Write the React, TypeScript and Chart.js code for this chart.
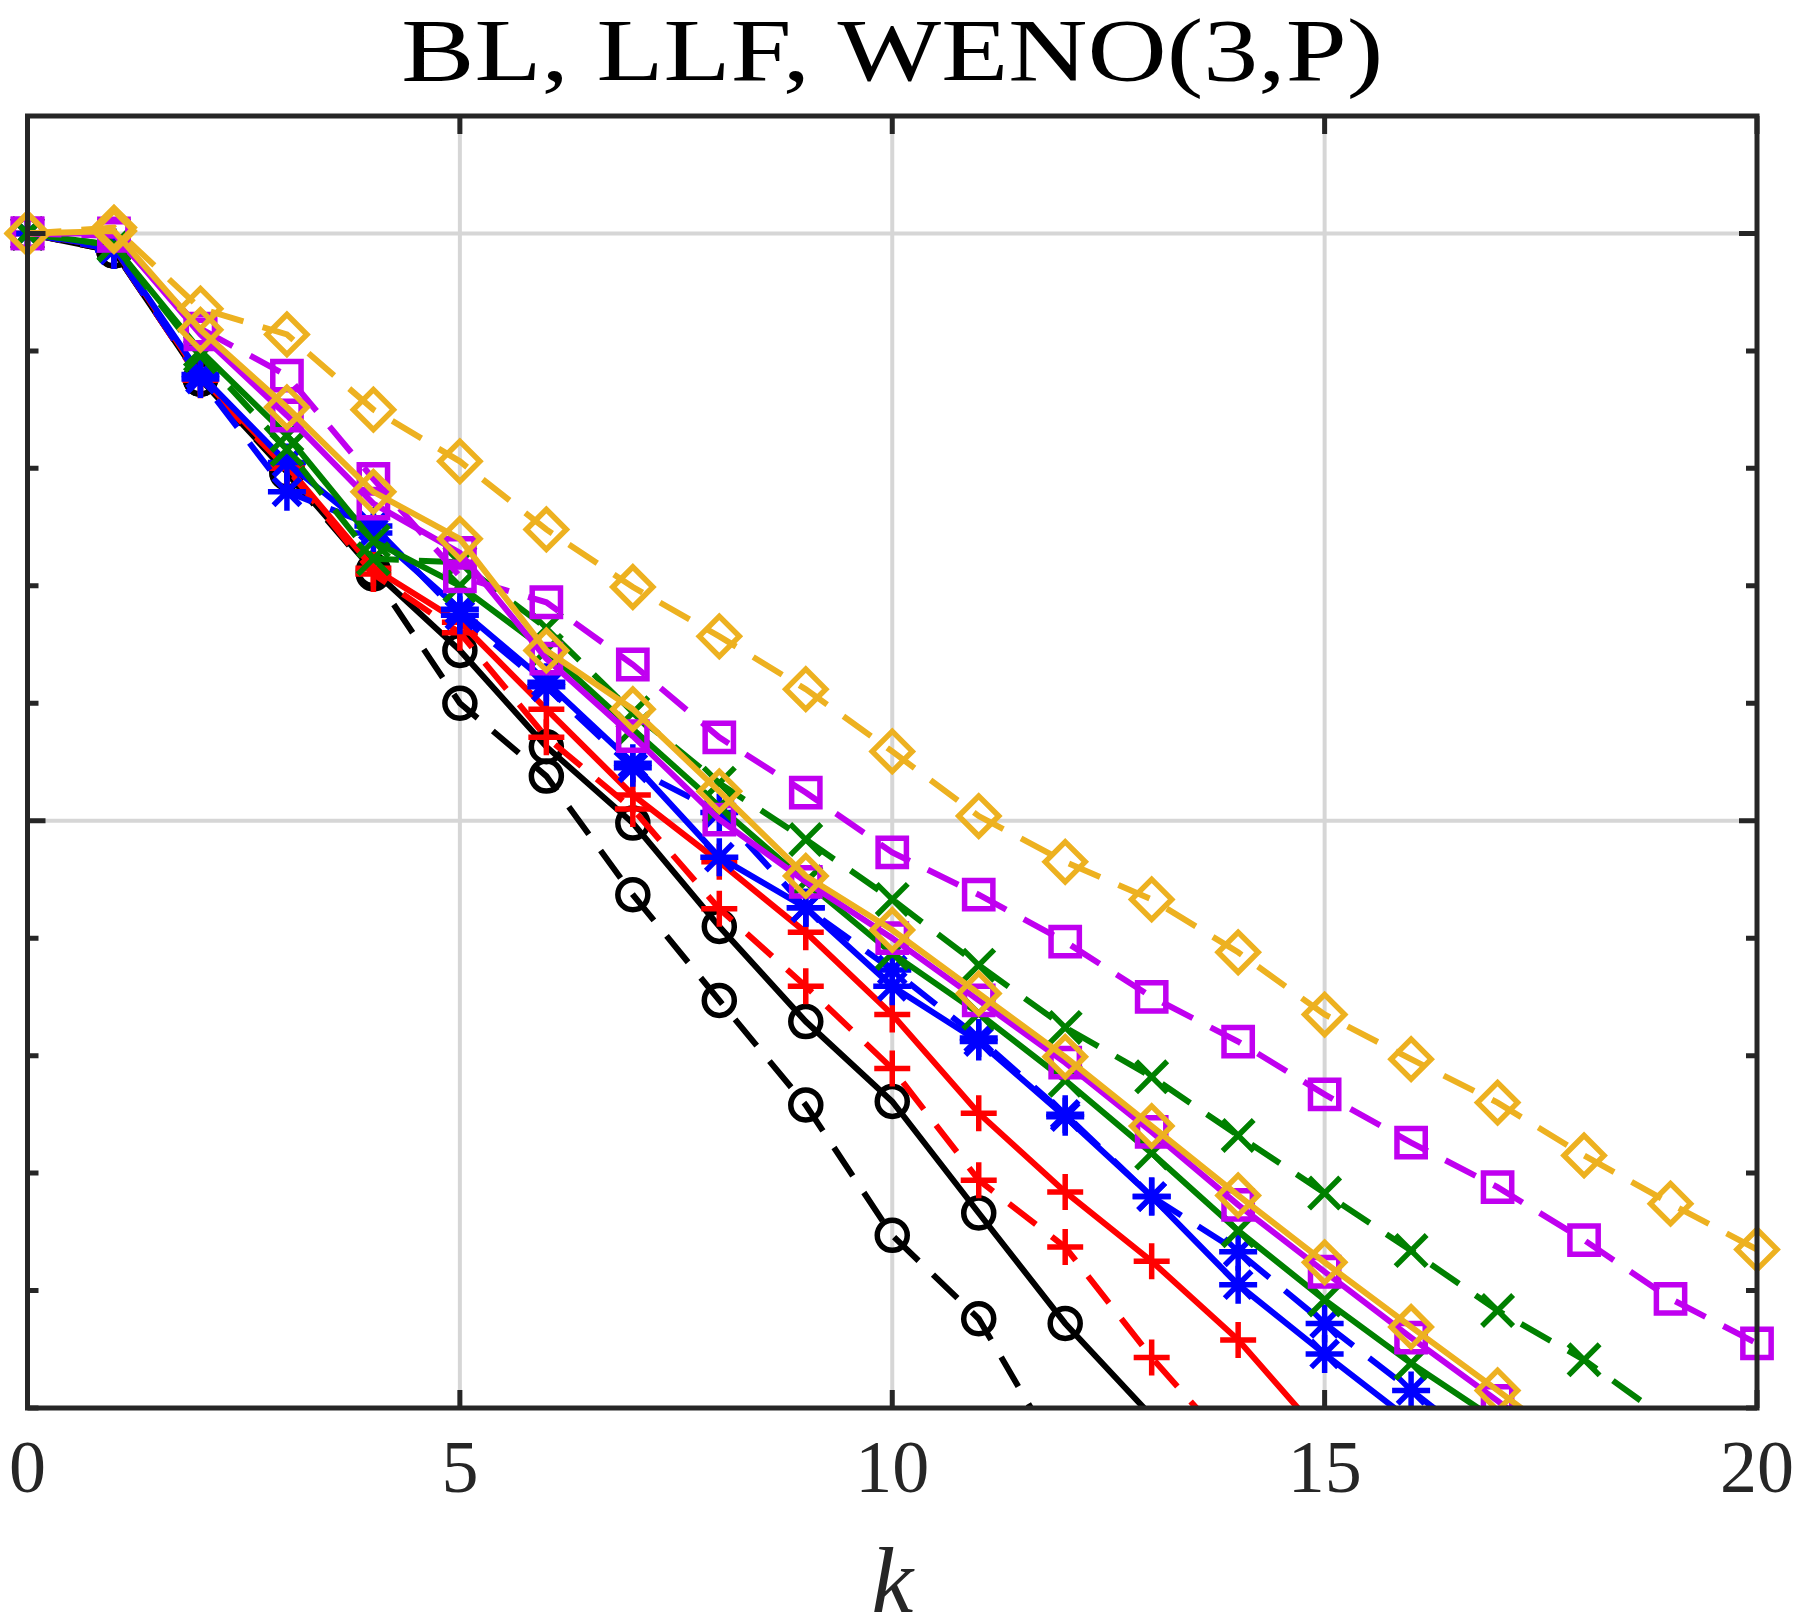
import { useEffect, useRef } from "react"
import { Chart, registerables } from "chart.js"

Chart.register(...registerables)

// iteration index k
const steps = [0, 1, 2, 3, 4, 5, 6, 7, 8, 9, 10, 11, 12, 13, 14, 15, 16, 17, 18, 19, 20]

// log10 of the residual (points past the bottom edge continue the line)
const blackSolid = [0, -0.15, -1.24, -2.03, -2.87, -3.55, -4.37, -5.02, -5.9, -6.71, -7.39, -8.34, -9.28, -10.07]
const blackDashed = [0, -0.15, -1.24, -2.04, -2.9, -4.0, -4.62, -5.63, -6.53, -7.42, -8.53, -9.24, -10.5]
const redSolid = [0, -0.12, -1.22, -1.98, -2.85, -3.31, -4.05, -4.78, -5.35, -5.95, -6.65, -7.49, -8.16, -8.75, -9.42, -10.26]
const redDashed = [0, -0.14, -1.25, -2.0, -2.9, -3.4, -4.29, -4.9, -5.75, -6.41, -7.11, -8.06, -8.63, -9.57, -10.4]
const blueSolid = [0, -0.12, -1.2, -1.95, -2.55, -3.2, -3.82, -4.51, -5.31, -5.74, -6.41, -6.88, -7.52, -8.2, -8.95, -9.54, -10.11]
const blueDashed = [0, -0.14, -1.24, -2.2, -2.49, -3.25, -3.86, -4.55, -4.93, -5.74, -6.27, -6.85, -7.5, -8.2, -8.67, -9.28, -9.85, -10.42]
const greenSolid = [0, -0.1, -1.0, -1.72, -2.62, -3.0, -3.55, -4.22, -4.88, -5.52, -6.13, -6.64, -7.21, -7.83, -8.49, -9.08, -9.62, -10.11]
const greenDashed = [0, -0.1, -1.04, -1.84, -2.77, -2.8, -3.36, -4.08, -4.68, -5.16, -5.67, -6.23, -6.76, -7.18, -7.68, -8.17, -8.66, -9.17, -9.59, -10.12]
const magentaSolid = [0, 0.0, -0.86, -1.55, -2.3, -2.72, -3.62, -4.28, -4.99, -5.52, -6.0, -6.53, -7.06, -7.65, -8.27, -8.84, -9.4, -9.94, -10.5]
const magentaDashed = [0, -0.02, -0.81, -1.21, -2.09, -2.92, -3.14, -3.67, -4.29, -4.76, -5.27, -5.63, -6.03, -6.5, -6.88, -7.33, -7.74, -8.12, -8.57, -9.07, -9.45]
const orangeSolid = [0, 0.02, -0.82, -1.48, -2.2, -2.6, -3.55, -4.05, -4.75, -5.47, -5.93, -6.47, -7.01, -7.6, -8.19, -8.76, -9.31, -9.85, -10.4]
const orangeDashed = [0, 0.05, -0.64, -0.86, -1.5, -1.94, -2.52, -3.01, -3.43, -3.88, -4.41, -4.96, -5.35, -5.67, -6.12, -6.65, -7.03, -7.4, -7.85, -8.26, -8.65]

const xTickValues = [0, 5, 10, 15, 20]
const xTickLabels = ["0", "5", "10", "15", "20"]
const yDecades = [1, 1e-1, 1e-2, 1e-3, 1e-4, 1e-5, 1e-6, 1e-7, 1e-8, 1e-9, 1e-10]
const yGridValues = [1, 1e-5]
const Y_MIN = 1e-10

const titleText = "BL, LLF, WENO(3,P)"
const xLabelText = "k"

const AXIS = "#262626"
const GRID = "#d6d6d6"
const DASH = [34, 20]

const toPoints = (vals: number[]) => vals.map((v, i) => ({ x: steps[i], y: Math.pow(10, v) }))

type Marker = { style: string; radius: number }
const circle: Marker = { style: "circle", radius: 15 }
const plus: Marker = { style: "cross", radius: 18 }
const star: Marker = { style: "star", radius: 19 }
const xmark: Marker = { style: "crossRot", radius: 22 }
const square: Marker = { style: "rect", radius: 20 }
const diamond: Marker = { style: "rectRot", radius: 20 }

const makeSet = (vals: number[], color: string, marker: Marker, dashed: boolean) => ({
  data: toPoints(vals),
  borderColor: color,
  borderWidth: 6,
  borderDash: dashed ? DASH : [],
  pointStyle: marker.style,
  // markers below the axis floor are not drawn, only the line leaving the box
  pointRadius: (c: any) => (c.raw && c.raw.y < Y_MIN ? 0 : marker.radius),
  pointBorderWidth: 5.5,
  pointBorderColor: color,
  pointBackgroundColor: "rgba(0,0,0,0)",
  tension: 0,
  clip: { left: 25, right: 25, top: 0, bottom: 0 },
})

const framePlugin = {
  id: "frame",
  beforeDatasetsDraw(chart: any) {
    const { ctx, chartArea: a, scales } = chart
    ctx.save()
    ctx.strokeStyle = GRID
    ctx.lineWidth = 4
    ctx.beginPath()
    for (const v of xTickValues) {
      if (v === 0 || v === 20) continue
      const px = scales.x.getPixelForValue(v)
      ctx.moveTo(px, a.top)
      ctx.lineTo(px, a.bottom)
    }
    for (const v of yGridValues) {
      const py = scales.y.getPixelForValue(v)
      ctx.moveTo(a.left, py)
      ctx.lineTo(a.right, py)
    }
    ctx.stroke()
    ctx.restore()
  },
  afterDatasetsDraw(chart: any) {
    const { ctx, chartArea: a, scales } = chart
    ctx.save()
    ctx.strokeStyle = AXIS
    ctx.lineWidth = 5
    ctx.lineCap = "butt"
    ctx.beginPath()
    for (const v of xTickValues) {
      const px = scales.x.getPixelForValue(v)
      ctx.moveTo(px, a.bottom)
      ctx.lineTo(px, a.bottom - 18)
      ctx.moveTo(px, a.top)
      ctx.lineTo(px, a.top + 18)
    }
    for (const v of yDecades) {
      const py = scales.y.getPixelForValue(v)
      const len = yGridValues.includes(v) ? 18 : 11
      ctx.moveTo(a.left, py)
      ctx.lineTo(a.left + len, py)
      ctx.moveTo(a.right, py)
      ctx.lineTo(a.right - len, py)
    }
    ctx.stroke()
    ctx.strokeRect(a.left, a.top, a.right - a.left, a.bottom - a.top)
    ctx.restore()
  },
  afterDraw(chart: any) {
    const { ctx, chartArea: a, scales } = chart
    const cx = (a.left + a.right) / 2
    ctx.save()
    ctx.fillStyle = AXIS
    ctx.textAlign = "center"
    ctx.textBaseline = "alphabetic"
    ctx.font = '74px "Liberation Serif", serif'
    xTickValues.forEach((v, i) => {
      ctx.fillText(xTickLabels[i], scales.x.getPixelForValue(v), a.bottom + 84)
    })
    ctx.font = 'italic 94px "Liberation Serif", serif'
    ctx.fillText(xLabelText, cx, a.bottom + 204)

    ctx.fillStyle = "#000"
    ctx.font = '88px "Liberation Serif", serif'
    const w = ctx.measureText(titleText).width
    const sx = 982 / w
    ctx.translate(cx, 80)
    ctx.scale(sx, 1)
    ctx.fillText(titleText, 0, 0)
    ctx.restore()
  },
}

export default function App() {
  const chartRef = useRef<HTMLCanvasElement>(null)
  const chartInstance = useRef<Chart | null>(null)

  useEffect(() => {
    if (!chartRef.current) return
    if (chartInstance.current) chartInstance.current.destroy()
    const ctx = chartRef.current.getContext("2d")
    if (!ctx) return

    // first dataset is drawn on top
    const datasets: any[] = [
      makeSet(orangeSolid, "#edb120", diamond, false),
      makeSet(orangeDashed, "#edb120", diamond, true),
      makeSet(magentaSolid, "#c000f0", square, false),
      makeSet(magentaDashed, "#c000f0", square, true),
      makeSet(greenSolid, "#008000", xmark, false),
      makeSet(greenDashed, "#008000", xmark, true),
      makeSet(blueSolid, "#0000ff", star, false),
      makeSet(blueDashed, "#0000ff", star, true),
      makeSet(redSolid, "#ff0000", plus, false),
      makeSet(redDashed, "#ff0000", plus, true),
      makeSet(blackSolid, "#000000", circle, false),
      makeSet(blackDashed, "#000000", circle, true),
    ]

    chartInstance.current = new Chart(ctx, {
      type: "line",
      data: { datasets },
      options: {
        animation: false,
        responsive: false,
        devicePixelRatio: 1,
        events: [],
        layout: { padding: { left: 21, top: 116, right: 37, bottom: 210 } },
        plugins: {
          legend: { display: false },
          tooltip: { enabled: false },
          title: { display: false },
        },
        scales: {
          x: { type: "linear", min: 0, max: 20, display: false },
          y: { type: "logarithmic", min: Y_MIN, max: 10, display: false },
        },
      },
      plugins: [framePlugin],
    })

    return () => {
      if (chartInstance.current) {
        chartInstance.current.destroy()
        chartInstance.current = null
      }
    }
  }, [])

  return (
    <div style={{ position: "fixed", left: 0, top: 0, width: 1794, height: 1618, background: "#fff" }}>
      <canvas ref={chartRef} width={1794} height={1618} style={{ display: "block" }} />
    </div>
  )
}
